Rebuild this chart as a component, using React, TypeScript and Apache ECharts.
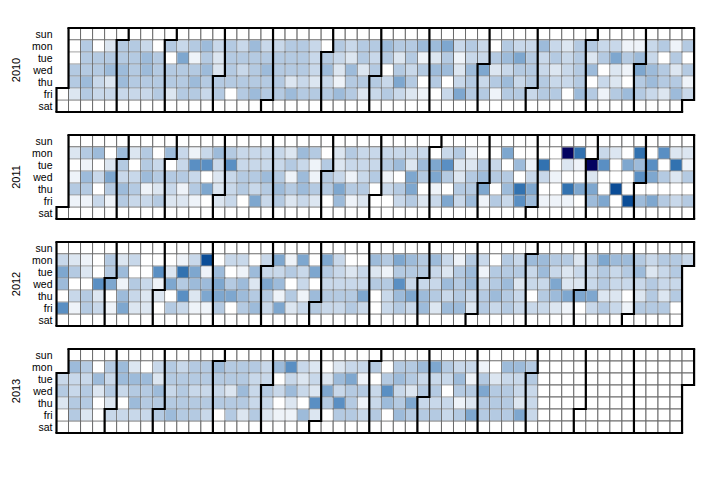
import React, { useEffect, useRef } from "react";
import * as echarts from "echarts";

// Values per weekday row, indexed by week column (column 0 = week containing Jan 1).
// null = day outside the year / no data.
const years = [2010, 2011, 2012, 2013];
const dayNames = ["sun", "mon", "tue", "wed", "thu", "fri", "sat"];

const mon2010 = [null, 0,4,0,2,4,4,3,0,4,3, 4,5,3,4,3,5,3,3,4,4, 3,0,4,3,4,4,5,4,4,5, 5,6,3,4,3,0,4,3,3,5, 3,2,4,4,3,3,1,1,3,4, 1,4];
const tue2010 = [null, 0,4,4,4,4,4,5,4,0,6, 1,4,2,4,4,4,4,4,4,4, 3,4,3,2,4,3,4,2,4,1, 2,4,1,3,3,4,5,6,4,3, 4,3,4,2,4,6,4,5,3,0, 4,0];
const wed2010 = [null, 4,4,4,5,5,4,5,4,4,4, 4,5,2,4,3,4,5,4,4,4, 3,5,2,5,2,4,0,4,3,4, 5,5,2,5,6,2,3,4,4,3, 2,3,4,5,0,2,1,6,5,4, 2,4];
const thu2010 = [null, 4,5,3,2,5,4,4,4,4,4, 5,4,4,4,4,4,4,4,2,3, 2,3,1,4,4,4,3,6,4,0, 4,0,3,4,3,4,5,3,4,4, 3,3,4,0,3,2,0,4,5,4, 4,1];
const fri2010 = [0, 2,4,3,3,3,3,3,4,2,4, 4,3,4,0,4,5,4,4,5,4, 4,4,5,4,2,3,4,3,2,1, 0,3,6,4,4,1,4,4,3,4, 4,0,5,4,1,4,5,4,3,2, 5,3];

const mon2011 = [null, 2,4,5,0,5,2,4,0,5,3, 1,3,5,4,3,3,3,3,2,5, 4,0,2,4,3,3,3,3,3,3, 0,3,4,1,0,0,6,0,0,0, 0,10,8,0,3,2,0,8,0,7, 2,2];
const tue2011 = [null, 0,1,0,2,4,0,4,3,0,3, 7,7,3,7,3,3,3,3,4,3, 1,4,2,3,3,3,4,5,2,5, 6,7,2,2,4,3,0,5,1,8, 0,2,1,10,7,0,6,5,7,0, 8,1];
const wed2011 = [null, 1,5,3,6,3,3,5,4,4,4, 3,0,2,3,4,4,5,4,1,5, 1,4,3,1,3,4,1,0,6,4, 6,4,2,4,5,4,4,0,3,3, 1,0,0,2,0,0,0,7,6,4, 2,4];
const thu2011 = [null, 4,4,0,4,5,4,1,2,3,1, 4,6,2,3,4,3,4,5,4,5, 4,4,6,4,4,0,3,4,6,0, 1,0,4,4,6,0,5,8,6,0, 0,8,6,6,0,9,0,0,0,0, 0,0];
const fri2011 = [null, 1,1,3,1,4,3,3,4,2,2, 1,0,2,3,0,6,3,4,2,3, 2,0,5,1,2,0,0,3,4,2, 3,6,3,5,1,4,3,7,5,1, 1,1,0,5,6,0,9,5,6,4, 3,4];

const mon2012 = [3,2,1,0,4,2,3,0,0,0, 1,3,9,0,3,3,0,3,6,1, 6,0,6,3,0,0,5,4,6,5, 4,5,3,1,4,3,0,4,3,5, 5,4,4,2,4,6,5,5,4,3, 4,4,3];
const tue2012 = [6,4,2,0,4,5,0,0,7,2, 8,6,1,5,0,1,5,3,3,4, 3,6,4,3,2,3,2,1,4,4, 4,3,2,4,5,1,4,4,4,3, 5,3,2,3,3,4,3,4,5,2, 3,4,null];
const wed2012 = [5,0,0,7,6,1,4,3,1,6, 4,5,5,6,4,5,2,6,5,0, 3,0,3,3,3,3,4,4,7,3, 3,3,5,4,5,3,4,5,2,3, 3,6,2,2,3,4,3,3,3,4, 3,3,null];
const thu2012 = [0,3,4,2,0,5,3,2,2,0, 7,2,6,6,6,5,4,4,1,4, 1,5,4,4,4,6,0,3,5,6, 5,4,3,4,3,4,5,4,3,0, 4,5,6,6,6,2,2,0,2,4, 2,4,null];
const fri2012 = [7,1,4,3,1,6,2,2,0,4, 3,1,1,4,0,4,5,3,6,2, 3,4,3,3,4,3,0,3,4,3, 5,2,5,5,2,4,3,4,3,3, 3,2,1,0,3,4,3,1,4,4, 4,0,null];

const mon2013 = [null,5,4,0,4,5,2,0,3,4, 3,4,4,5,4,4,4,3,5,7, 3,2,0,2,3,3,4,0,4,4, 5,6,4,3,3,1,0,5,5,4];
const tue2013 = [3,3,3,5,3,5,5,5,2,4, 4,4,4,4,4,4,3,3,0,3, 2,3,2,5,6,1,0,4,5,4, 3,3,3,5,1,4,2,3,3,4];
const wed2013 = [4,3,4,2,4,3,4,4,5,3, 4,3,3,3,2,5,3,4,3,5, 3,2,6,3,4,4,3,7,3,2, 4,4,0,4,4,6,4,4,3,3];
const thu2013 = [2,4,4,0,2,0,5,4,4,4, 4,4,4,4,4,4,3,3,0,2, 0,7,4,7,4,1,3,5,4,6, 3,3,3,1,2,4,4,4,2,3];
const fri2013 = [0,4,2,0,3,3,3,3,4,5, 4,4,3,0,4,2,4,2,1,1, 5,2,0,4,4,3,4,0,5,4, 4,4,3,4,6,4,4,4,6,3];

const rowsByYear: (number | null)[][][] = [
  [mon2010, tue2010, wed2010, thu2010, fri2010],
  [mon2011, tue2011, wed2011, thu2011, fri2011],
  [mon2012, tue2012, wed2012, thu2012, fri2012],
  [mon2013, tue2013, wed2013, thu2013, fri2013],
];

const palette = [
  "#ffffff", "#eef3f9", "#dce6f1", "#c8d8ea", "#b4cae2", "#9dbbda",
  "#7ea7cf", "#5a8fc3", "#3272b0", "#0b4d97", "#03035f",
];

function pad(n: number) {
  return n < 10 ? "0" + n : "" + n;
}

function buildYear(year: number, rows: (number | null)[][]) {
  const jan1 = Date.UTC(year, 0, 1);
  const dow = new Date(jan1).getUTCDay();
  const start = jan1 - dow * 86400000;
  const out: [string, number][] = [];
  rows.forEach((arr, r) => {
    const weekday = r + 1;
    arr.forEach((v, c) => {
      if (v === null || v === undefined) return;
      const d = new Date(start + (c * 7 + weekday) * 86400000);
      if (d.getUTCFullYear() !== year) return;
      out.push([`${d.getUTCFullYear()}-${pad(d.getUTCMonth() + 1)}-${pad(d.getUTCDate())}`, v]);
    });
  });
  return out;
}

export default function App() {
  const ref = useRef<HTMLDivElement>(null);
  useEffect(() => {
    document.body.style.margin = "0";
    if (!ref.current) return;
    const chart = echarts.init(ref.current, null, { renderer: "svg" });
    const tops = [28, 135, 242, 349];
    const font = "Liberation Sans, Arial, sans-serif";
    chart.setOption({
      animation: false,
      backgroundColor: "#ffffff",
      visualMap: {
        show: false,
        type: "continuous",
        min: 0,
        max: 10,
        seriesIndex: [0, 1, 2, 3],
        inRange: { color: palette },
      },
      calendar: years.map((y, i) => ({
        range: String(y),
        orient: "horizontal",
        left: 56.5,
        top: tops[i],
        cellSize: [12.03, 12],
        itemStyle: { color: "#ffffff", borderColor: "#6b6b6b", borderWidth: 1 },
        splitLine: { show: true, lineStyle: { color: "#000000", width: 2.2 } },
        dayLabel: {
          show: true,
          firstDay: 0,
          nameMap: dayNames,
          position: "start",
          margin: 4,
          color: "#000000",
          fontSize: 10.5,
          fontWeight: "normal",
          fontFamily: font,
        },
        monthLabel: { show: false },
        yearLabel: {
          show: true,
          position: "left",
          margin: 35,
          color: "#000000",
          fontSize: 11,
          fontWeight: "normal",
          fontFamily: font,
        },
      })),
      series: years.map((y, i) => ({
        type: "heatmap",
        coordinateSystem: "calendar",
        calendarIndex: i,
        data: buildYear(y, rowsByYear[i]),
        itemStyle: { borderWidth: 0 },
      })),
    });
    return () => chart.dispose();
  }, []);
  return <div ref={ref} style={{ width: 716, height: 477 }} />;
}
